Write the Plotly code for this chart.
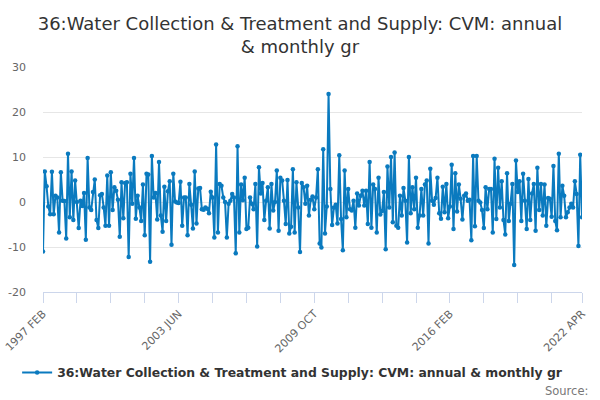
import plotly.graph_objects as go

# Monthly values, 1997 FEB .. 2022 APR (303 months)
values_1997_2001 = [
    -11.0, 6.8, 3.5, -1.0, -2.7, 6.7, -2.7, 1.4, 1.0, -6.8,
    6.6, 0.3, 0.2, -8.1, 10.7, -3.4, 6.8, -4.0, 4.8, 0.0,
    -5.8, 0.3, -0.9, 2.0, -8.4, 9.8, -1.2, -1.8, 2.2, 5.0,
    -4.0, -5.8, 1.5, 1.8, -1.2, -5.3, 5.9, -5.3, 6.6, -1.8,
    3.3, 2.5, 0.5, -7.7, 4.4, -3.6, 4.2, 4.4, -12.2,
]
values_2001_2005 = [
    6.3, -0.4, 9.8, -3.7, 1.4, -1.2, -4.2, 3.9, -7.4, 6.3,
    6.1, -13.3, 10.2, 1.0, 2.0, -3.9, 8.9, -3.0, -6.6, 3.4,
    -4.2, 2.4, 4.6, -9.5, 6.3, 0.1, -0.1, -0.2, 4.5, -5.3,
    1.0, 1.0, -7.4, 4.0, -0.6, -5.9, 6.8, -4.8, 3.0, 3.1,
    -1.6, -1.7, -1.2, -1.5, -2.5, 2.3, 1.0, -7.9, 12.8,
]
values_2005_2009 = [
    -6.8, 4.0, 3.6, 1.0, 0.0, -7.9, -0.4, 0.3, 1.8, 1.0,
    -11.4, 12.4, -6.8, 3.9, 0.4, 5.4, -6.0, -5.7, 1.0, -0.4,
    -1.6, 4.0, -9.9, 7.7, 1.9, 4.2, -4.0, 0.3, 3.3, -5.9,
    4.0, -1.9, 0.0, 7.0, -6.4, 5.4, 4.8, 0.3, -4.9, 4.9,
    -7.0, -5.5, 7.3, -6.8, 4.4, -1.2, -11.1, 4.2, 3.3, -0.4,
    3.6, -3.0,
]
values_2009_2013 = [
    0.5, 1.2, -1.6, 1.0, 7.3, -9.2, -10.1, 11.7, -7.0, -1.0,
    24.0, 2.9, -5.1, -1.2, -0.6, -4.8, 10.4, -3.8, -10.7, 7.0,
    -3.4, 2.9, -1.6, -1.9, 0.3, -5.7, 1.9, -0.8, 1.4, 2.5,
    -0.8, 2.5, -4.9, 8.9, -5.7, 3.9, 2.9, -6.8, 5.4, -2.8,
    -2.0, 2.2, -10.5, 7.9, -1.2, 10.0, -4.5, 11.0, -5.3, -5.7,
]
values_2013_2017 = [
    1.4, -3.0, 3.1, 0.3, -9.0, 10.0, -2.5, 3.3, -1.6, 5.4,
    -5.7, -3.0, 2.9, -3.0, 3.9, 4.8, -9.2, 7.4, 0.3, -0.6,
    0.9, 5.4, -2.5, -3.7, 3.4, -2.3, 4.0, -3.6, -1.0, 8.3,
    -6.0, 6.4, -2.1, 3.9, 0.7, -3.9, 1.4, 1.9, 0.3, 0.5,
    -8.5, 10.2, -5.4, 10.2, 0.3, -0.1, -1.8, -5.8, 3.3, -1.6,
]
values_2017_2022 = [
    2.9, 2.9, -6.8, 9.6, -3.8, 7.6, -1.2, 4.6, -4.0, -7.2,
    6.4, -4.2, -0.4, 4.0, -14.0, 9.2, 2.2, 4.6, -4.2, 6.3,
    0.3, -6.0, 5.1, -4.0, 1.9, 4.0, -6.4, 7.6, -1.8, 4.0,
    -3.0, 3.9, -5.3, 0.9, 0.7, -3.3, 8.0, -4.2, -6.3, 10.7,
    -3.4, 3.6, 1.4, -3.4, -2.3, -1.2, -0.4, -1.2, 4.6, 1.8,
    -9.8, 10.5, -3.4,
]

series_name = "36:Water Collection & Treatment and Supply: CVM: annual & monthly gr"
title_text = "36:Water Collection & Treatment and Supply: CVM: annual<br>& monthly gr"
x_tick_labels = ["1997 FEB", "2003 JUN", "2009 OCT", "2016 FEB", "2022 APR"]
x_tick_index = [0, 76, 152, 228, 302]
y_ticks = [-20, -10, 0, 10, 20, 30]
y_tick_labels = ["-20", "-10", "0", "10", "20", "30"]

values = (values_1997_2001 + values_2001_2005 + values_2005_2009
          + values_2009_2013 + values_2013_2017 + values_2017_2022)
x_idx = list(range(len(values)))

LINE = "#0a7abf"
FONT = "DejaVu Sans"

fig = go.Figure()
fig.add_trace(go.Scatter(
    x=x_idx, y=values, mode="lines+markers", name=series_name,
    line=dict(color=LINE, width=2),
    marker=dict(color=LINE, size=4.5),
    showlegend=True,
))

fig.update_layout(
    width=600, height=400,
    paper_bgcolor="white", plot_bgcolor="white",
    margin=dict(l=43, r=18, t=67, b=108, autoexpand=False),
    font=dict(family=FONT, color="#666666", size=11),
    title=dict(text=title_text, x=0.5, xanchor="center", y=0.925, yanchor="top",
               font=dict(family=FONT, size=18, color="#333333")),
    xaxis=dict(
        range=[0, len(values) - 1], automargin=False,
        tickmode="array", tickvals=x_tick_index, ticktext=x_tick_labels,
        tickangle=-45, ticks="outside", ticklen=10, tickcolor="#ccd6eb",
        showline=True, linecolor="#ccd6eb", linewidth=1,
        showgrid=False, zeroline=False,
        tickfont=dict(size=11, color="#666666"),
        minor=dict(tick0=0, dtick=19, ticks="outside", ticklen=10,
                   tickcolor="#ccd6eb", showgrid=False),
    ),
    yaxis=dict(
        range=[-20, 30], automargin=False,
        tickmode="array", tickvals=y_ticks, ticktext=y_tick_labels,
        showgrid=True, gridcolor="#e6e6e6", gridwidth=1,
        zeroline=False, showline=False, ticks="",
        ticklabelstandoff=16,
        tickfont=dict(size=11, color="#666666"),
    ),
    legend=dict(orientation="h", x=-0.048, xanchor="left", y=-0.36, yanchor="middle",
                font=dict(family=FONT, size=12.4, color="#333333", weight="bold"),
                itemwidth=30),
    annotations=[dict(text="Source:", xref="paper", yref="paper", x=1.0145, y=-0.44,
                      xanchor="right", yanchor="middle", showarrow=False,
                      font=dict(family=FONT, size=11.5, color="#777777"))],
)

fig.write_html("out.html", config={"displayModeBar": False},
               post_script="document.body.style.margin='0';")
